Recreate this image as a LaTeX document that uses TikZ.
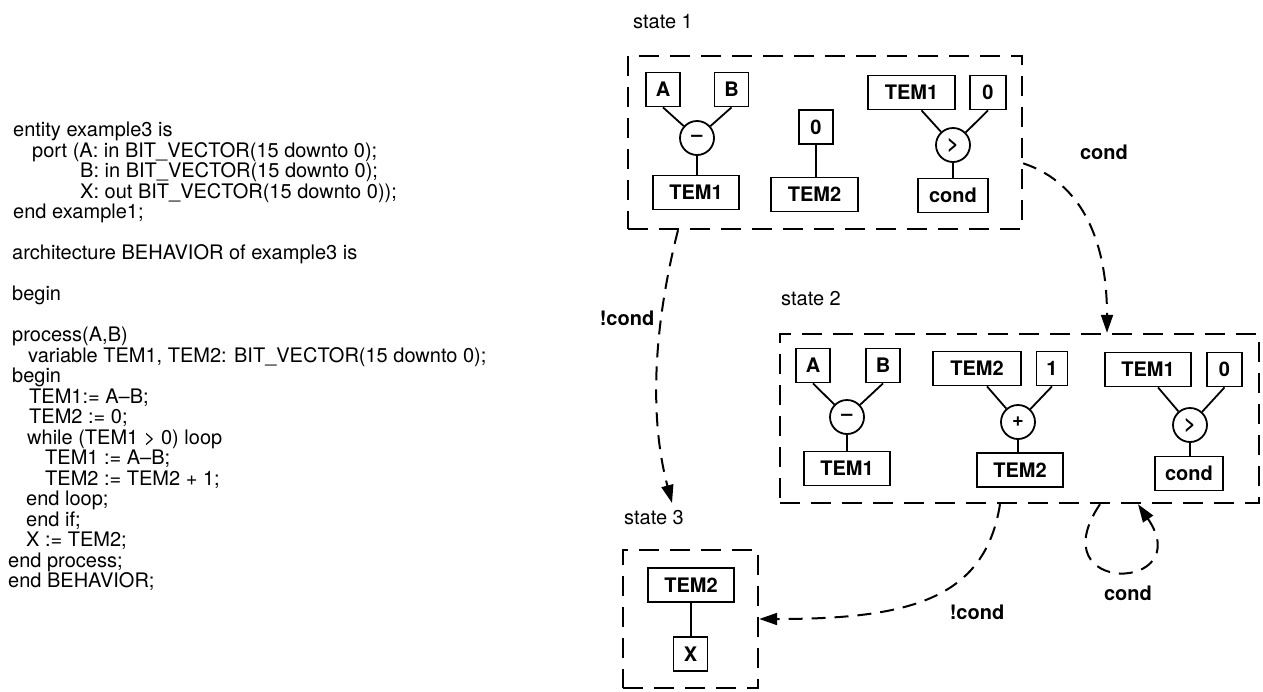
\documentclass[tikz,border=0pt]{standalone}
\usepackage{fontspec}
\setmainfont{TeX Gyre Heros}
\usetikzlibrary{arrows.meta}
\tikzset{
  reg/.style={draw, line width=1.8pt, font=\fontsize{20}{22}\selectfont\bfseries,
    minimum height=34pt, minimum width=34pt, inner sep=0pt},
  op/.style={draw, circle, line width=1.8pt, minimum size=34pt, inner sep=0pt,
    font=\fontsize{20}{22}\selectfont\bfseries},
  wire/.style={line width=1.8pt},
  statebox/.style={draw, dash pattern=on 20pt off 11pt, line width=2.4pt, inner sep=0pt},
  trans/.style={dash pattern=on 14pt off 9pt, line width=2pt,
    -{Triangle[length=18pt,width=12pt]}},
  lab/.style={font=\fontsize{20}{22}\selectfont, inner sep=0pt},
  blab/.style={font=\fontsize{20}{22}\selectfont\bfseries, inner sep=0pt},
  code/.style={font=\fontsize{20}{20.5}\selectfont, align=left, inner sep=0pt}
}
\begin{document}
\begin{tikzpicture}[x=1pt,y=-1pt]
\useasboundingbox (0,0) rectangle (1263,691);
% VHDL source
\node[code, anchor=north west] (vhdl) at (8,122) {%
\hspace*{5pt}entity example3 is\\
\hspace*{24pt}port (A: in BIT\_VECTOR(15 downto 0);\\
\hspace*{72pt}B: in BIT\_VECTOR(15 downto 0);\\
\hspace*{72pt}X: out BIT\_VECTOR(15 downto 0));\\
\hspace*{5pt}end example1;\\[20.5pt]
\hspace*{4pt}architecture BEHAVIOR of example3 is\\[20.5pt]
\hspace*{4pt}begin\\[20.5pt]
\hspace*{4pt}process(A,B)\\
\hspace*{20pt}variable TEM1, TEM2: BIT\_VECTOR(15 downto 0);\\
\hspace*{4pt}begin\\
\hspace*{21pt}TEM1:= A--B;\\
\hspace*{21pt}TEM2 := 0;\\
\hspace*{19pt}while (TEM1 > 0) loop\\
\hspace*{37pt}TEM1 := A--B;\\
\hspace*{37pt}TEM2 := TEM2 + 1;\\
\hspace*{18pt}end loop;\\
\hspace*{18pt}end if;\\
\hspace*{18pt}X := TEM2;\\
end process;\\
end BEHAVIOR;};

% state 1
\node[lab, anchor=west] (s1lab) at (633,22) {state 1};
\node[statebox, minimum width=394pt, minimum height=173pt] (s1box) at (825,142.5) {};
\node[reg] (s1a) at (663,89.5) {A};
\node[reg] (s1b) at (731.5,89.5) {B};
\node[op] (s1sub) at (697,138) {--};
\node[reg, minimum width=86pt] (s1t1) at (696,192.5) {TEM1};
\node[reg] (s1z) at (816,127) {0};
\node[reg, minimum width=87pt] (s1t2) at (814.5,194.5) {TEM2};
\node[reg, minimum width=87pt] (s1c1) at (911.5,92.5) {TEM1};
\node[reg, minimum width=36pt] (s1c0) at (988,92.5) {0};
\node[op] (s1gt) at (953,145) {>};
\node[reg, minimum width=70pt] (s1cond) at (953,195.5) {cond};
\draw[wire] (s1a.south) -- (s1sub);
\draw[wire] (s1b.south) -- (s1sub);
\draw[wire] (s1sub.south) -- (s1sub.south |- s1t1.north);
\draw[wire] (s1z.south) -- (s1z.south |- s1t2.north);
\draw[wire] ([xshift=10pt]s1c1.south) -- (s1gt);
\draw[wire] (s1c0.south) -- (s1gt);
\draw[wire] (s1gt.south) -- (s1gt.south |- s1cond.north);

% state 2
\node[lab, anchor=west] (s2lab) at (781,299) {state 2};
\node[statebox, minimum width=479pt, minimum height=169pt] (s2box) at (1019.5,418.5) {};
\node[reg] (s2a) at (813,365.5) {A};
\node[reg] (s2b) at (883,365.5) {B};
\node[op] (s2sub) at (847,417) {--};
\node[reg, minimum width=86pt] (s2t1) at (847,468.5) {TEM1};
\node[reg, minimum width=88pt] (s2t2a) at (977,368.5) {TEM2};
\node[reg, minimum width=31pt] (s2one) at (1052,368.5) {1};
\node[op] (s2add) at (1018,422) {+};
\node[reg, minimum width=86pt] (s2t2b) at (1020,470) {TEM2};
\node[reg, minimum width=86pt] (s2t1c) at (1148,369.5) {TEM1};
\node[reg, minimum width=35pt] (s2zero) at (1224.5,369.5) {0};
\node[op] (s2gt) at (1190,425) {>};
\node[reg, minimum width=68pt] (s2cond) at (1189,473.5) {cond};
\draw[wire] (s2a.south) -- (s2sub);
\draw[wire] (s2b.south) -- (s2sub);
\draw[wire] (s2sub.south) -- (s2sub.south |- s2t1.north);
\draw[wire] ([xshift=10pt]s2t2a.south) -- (s2add);
\draw[wire] (s2one.south) -- (s2add);
\draw[wire] (s2add.south) -- (s2add.south |- s2t2b.north);
\draw[wire] ([xshift=10pt]s2t1c.south) -- (s2gt);
\draw[wire] (s2zero.south) -- (s2gt);
\draw[wire] (s2gt.south) -- (s2gt.south |- s2cond.north);

% state 3
\node[lab, anchor=west] (s3lab) at (624,518) {state 3};
\node[statebox, minimum width=135pt, minimum height=138pt] (s3box) at (690.5,619) {};
\node[reg, minimum width=86pt] (s3t2) at (691,585) {TEM2};
\node[reg] (s3x) at (690.5,654) {X};
\draw[wire] (s3t2.south) -- (s3t2.south |- s3x.north);
\coordinate (s3in) at (672,503);

% transitions
\draw[trans] (s1box.-6) .. controls +(60,20) and +(0,-90) .. ([xshift=87.5pt]s2box.north);
\node[blab] (c12) at (1104,152) {cond};
\draw[trans] ([xshift=-147pt]s1box.south) .. controls +(-23,90) and +(-24,-90) .. (s3in);
\node[blab] (nc13) at (627,318) {!cond};
\draw[trans] ([xshift=-19.5pt]s2box.south) .. controls +(-15,95) and +(150,0) .. (s3box.east);
\node[blab] (nc23) at (977,612) {!cond};
\draw[trans] ([xshift=80.5pt]s2box.south) .. controls +(-62,92) and +(60,88) .. ([xshift=118.5pt]s2box.south);
\node[blab] (c22) at (1128,593) {cond};
\end{tikzpicture}
\end{document}
